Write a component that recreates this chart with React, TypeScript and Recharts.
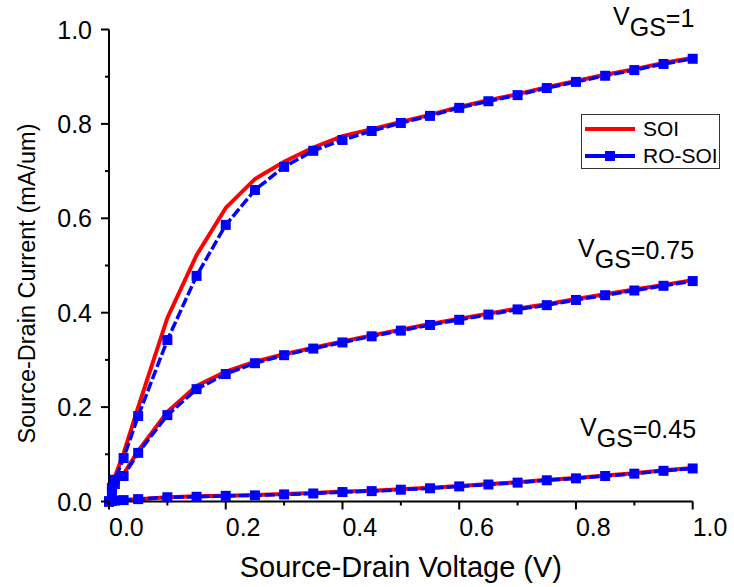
import React from 'react';
import { LineChart, Line, XAxis, YAxis, Legend } from 'recharts';

// Source-drain voltage (V)
const vds = [0, 0.005, 0.01, 0.025, 0.05, 0.1, 0.15, 0.2, 0.25, 0.3, 0.35, 0.4, 0.45, 0.5, 0.55, 0.6, 0.65, 0.7, 0.75, 0.8, 0.85, 0.9, 0.95, 1.0];

// Source-drain current (mA/um), VGS = 1
const soi1 = [0, 0.032, 0.052, 0.102, 0.2, 0.389, 0.522, 0.622, 0.683, 0.72, 0.75, 0.774, 0.789, 0.804, 0.819, 0.836, 0.85, 0.863, 0.878, 0.891, 0.904, 0.916, 0.929, 0.94];
const ro1 = [0, 0.029, 0.046, 0.092, 0.181, 0.342, 0.478, 0.586, 0.66, 0.709, 0.743, 0.766, 0.785, 0.802, 0.817, 0.834, 0.848, 0.861, 0.876, 0.889, 0.902, 0.914, 0.927, 0.938];

// VGS = 0.75
const soi075 = [0, 0.021, 0.039, 0.058, 0.107, 0.19, 0.245, 0.275, 0.296, 0.312, 0.326, 0.339, 0.352, 0.364, 0.376, 0.387, 0.398, 0.409, 0.418, 0.429, 0.439, 0.449, 0.459, 0.469];
const ro075 = [0, 0.02, 0.037, 0.054, 0.103, 0.183, 0.238, 0.27, 0.293, 0.31, 0.324, 0.337, 0.35, 0.362, 0.374, 0.385, 0.396, 0.407, 0.416, 0.427, 0.437, 0.447, 0.457, 0.467];

// VGS = 0.45
const soi045 = [0, 0.001, 0.002, 0.003, 0.005, 0.009, 0.011, 0.012, 0.014, 0.016, 0.018, 0.021, 0.023, 0.026, 0.029, 0.033, 0.037, 0.041, 0.046, 0.05, 0.055, 0.06, 0.066, 0.071];
const ro045 = [0, 0.001, 0.002, 0.003, 0.005, 0.009, 0.01, 0.012, 0.013, 0.015, 0.017, 0.02, 0.022, 0.025, 0.028, 0.032, 0.036, 0.04, 0.045, 0.049, 0.054, 0.059, 0.065, 0.07];

const xTicks = [0, 0.1, 0.2, 0.3, 0.4, 0.5, 0.6, 0.7, 0.8, 0.9, 1.0];
const yTicks = [0, 0.1, 0.2, 0.3, 0.4, 0.5, 0.6, 0.7, 0.8, 0.9, 1.0];

const legendOrder = ['SOI', 'RO-SOI'];

const curveLabels = [
  { x: 613, y: 25, value: '=1' },
  { x: 578, y: 257, value: '=0.75' },
  { x: 580, y: 436, value: '=0.45' },
];

const FONT = '"Liberation Sans", Arial, sans-serif';
const RED = '#ff0000';
const BLUE = '#0000ff';

const rows = vds.map((v, i) => ({
  v,
  soi1: soi1[i], ro1: ro1[i],
  soi075: soi075[i], ro075: ro075[i],
  soi045: soi045[i], ro045: ro045[i],
}));

const isMajor = (v: number) => Math.round(v * 10) % 2 === 0;

const XTick = ({ x, y, payload }: any) => {
  const major = isMajor(payload.value);
  return (
    <g>
      <line x1={x} x2={x} y1={y} y2={y + (major ? 8 : 4)} stroke="#000" strokeWidth={2} />
      {major && (
        <text x={x} y={y + 34} textAnchor="start" fontSize={25} fontFamily={FONT} fill="#000">
          {payload.value.toFixed(1)}
        </text>
      )}
    </g>
  );
};

const YTick = ({ x, y, payload }: any) => {
  const major = isMajor(payload.value);
  return (
    <g>
      <line x1={x} x2={x - (major ? 8 : 4)} y1={y} y2={y} stroke="#000" strokeWidth={2} />
      {major && (
        <text x={x - 17} y={y + 9} textAnchor="end" fontSize={25} fontFamily={FONT} fill="#000">
          {payload.value.toFixed(1)}
        </text>
      )}
    </g>
  );
};

const Square = (props: any) => {
  const { cx, cy, index } = props;
  if (cx == null || cy == null) return <g key={index} />;
  return <rect key={index} x={cx - 5} y={cy - 5} width={10} height={10} fill={BLUE} />;
};

const LegendBox = ({ payload }: any) => {
  const items = (payload || [])
    .filter((p: any) => p.type !== 'none')
    .sort((a: any, b: any) => legendOrder.indexOf(a.value) - legendOrder.indexOf(b.value));
  return (
    <div style={{
      border: '1.5px solid #333', background: '#fff', width: 137, height: 53,
      fontFamily: FONT, fontSize: 21, color: '#000', boxSizing: 'content-box',
    }}>
      {items.map((p: any) => {
        const blue = p.value === 'RO-SOI';
        return (
          <div key={p.value} style={{ display: 'flex', alignItems: 'center', height: 27 }}>
            <svg width={58} height={20} style={{ marginLeft: 3 }}>
              <line x1={0} x2={50} y1={10} y2={10} stroke={p.color} strokeWidth={4} />
              {blue && <rect x={20} y={5} width={10} height={10} fill={BLUE} />}
            </svg>
            <span style={{ lineHeight: '27px' }}>{p.value}</span>
          </div>
        );
      })}
    </div>
  );
};

export default function App() {
  return (
    <div style={{ position: 'fixed', left: 0, top: 0, width: 734, height: 587, background: '#fff' }}>
      <LineChart width={734} height={587} data={rows} margin={{ top: 29.5, right: 41.3, bottom: 0, left: 0 }}>
        <XAxis
          type="number" dataKey="v" domain={[0, 1]} ticks={xTicks} interval={0}
          height={85.5} tickSize={0} tickMargin={0} tickLine={false}
          axisLine={{ stroke: '#000', strokeWidth: 2 }} tick={<XTick />}
          label={{
            content: ({ viewBox }: any) => (
              <text x={viewBox.x + viewBox.width / 2} y={viewBox.y + 75.5} textAnchor="middle"
                fontSize={29} fontFamily={FONT} fill="#000">
                Source-Drain Voltage (V)
              </text>
            ),
          }}
        />
        <YAxis
          type="number" domain={[0, 1]} ticks={yTicks} interval={0}
          width={109} tickSize={0} tickMargin={0} tickLine={false}
          axisLine={{ stroke: '#000', strokeWidth: 2 }} tick={<YTick />}
          label={{
            content: ({ viewBox }: any) => {
              const cy = viewBox.y + viewBox.height / 2 + 18;
              return (
                <text x={27} y={cy} textAnchor="middle" dominantBaseline="central"
                  transform={`rotate(-90 27 ${cy})`}
                  fontSize={23.5} fontFamily={FONT} fill="#000">
                  Source-Drain Current (mA/um)
                </text>
              );
            },
          }}
        />
        <Legend
          layout="vertical" align="center" verticalAlign="middle"
          wrapperStyle={{ left: 581, top: 114, width: 140 }}
          content={<LegendBox />}
        />

        <Line dataKey="soi1" name="SOI" stroke={RED} strokeWidth={4} dot={false} isAnimationActive={false} />
        <Line dataKey="soi075" name="SOI" stroke={RED} strokeWidth={4} dot={false} legendType="none" isAnimationActive={false} />
        <Line dataKey="soi045" name="SOI" stroke={RED} strokeWidth={4} dot={false} legendType="none" isAnimationActive={false} />
        <Line dataKey="ro1" name="RO-SOI" stroke={BLUE} strokeWidth={3.5} strokeDasharray="10 3" dot={<Square />} isAnimationActive={false} />
        <Line dataKey="ro075" name="RO-SOI" stroke={BLUE} strokeWidth={3.5} strokeDasharray="10 3" dot={<Square />} legendType="none" isAnimationActive={false} />
        <Line dataKey="ro045" name="RO-SOI" stroke={BLUE} strokeWidth={3.5} strokeDasharray="10 3" dot={<Square />} legendType="none" isAnimationActive={false} />

        <g fontFamily={FONT} fill="#000" fontSize={25}>
          {curveLabels.map((c) => (
            <text key={c.value} x={c.x} y={c.y}>
              V<tspan dy={11}>GS</tspan><tspan dy={-9}>{c.value}</tspan>
            </text>
          ))}
        </g>
      </LineChart>
    </div>
  );
}
